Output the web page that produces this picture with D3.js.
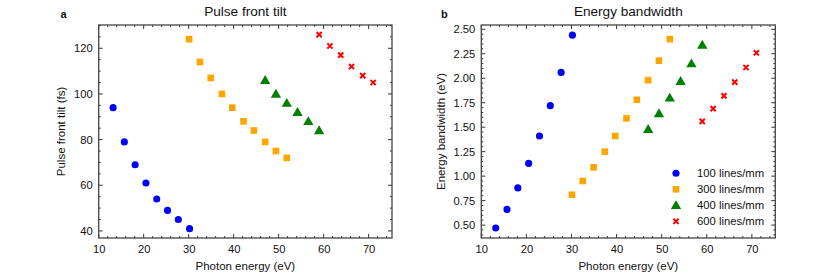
<!DOCTYPE html>
<html>
<head>
<meta charset="utf-8">
<script src="https://cdn.jsdelivr.net/npm/d3@7"></script>
<style>
  body { margin: 0; background: #fff; }
  svg { font-family: 'Liberation Sans', Arial, sans-serif; }
</style>
</head>
<body>
<svg id="canvas" width="831" height="278"></svg>
<script>
// photon energy (eV) per grating
let energy100 = [13.2, 15.7, 18.1, 20.5, 22.9, 25.3, 27.7, 30.2]
let energy300 = [30.1, 32.5, 34.9, 37.4, 39.7, 42.2, 44.5, 47.0, 49.4, 51.8]
let energy400 = [47.0, 49.4, 51.8, 54.2, 56.6, 59.0]
let energy600 = [59.0, 61.4, 63.8, 66.2, 68.7, 71.0]

// pulse front tilt (fs)
let tilt100 = [94, 79, 69, 61, 54, 49, 45, 41]
let tilt300 = [124, 114, 107, 100, 94, 88, 84, 79, 75, 72]
let tilt400 = [106, 100, 96, 92, 88, 84]
let tilt600 = [126, 121, 117, 112, 108, 105]

// energy bandwidth (eV)
let bw100 = [0.47, 0.66, 0.88, 1.13, 1.41, 1.72, 2.06, 2.44]
let bw300 = [0.81, 0.95, 1.09, 1.25, 1.41, 1.59, 1.78, 1.98, 2.18, 2.40]
let bw400 = [1.48, 1.64, 1.80, 1.97, 2.15, 2.34]
let bw600 = [1.56, 1.69, 1.82, 1.96, 2.11, 2.26]

let seriesNames = ['100 lines/mm', '300 lines/mm', '400 lines/mm', '600 lines/mm']
let seriesColors = ['#0000ff', '#ffa500', '#008000', '#ff0000']
let seriesShapes = ['circle', 'square', 'triangle', 'cross']

let xTicks = [10, 20, 30, 40, 50, 60, 70]
let tiltTicks = [40, 60, 80, 100, 120]
let bwTicks = [0.5, 0.75, 1.0, 1.25, 1.5, 1.75, 2.0, 2.25, 2.5]

let canvas = d3.select('#canvas')

let symbolFor = (shape) => {
    if (shape === 'circle') return d3.symbol().type(d3.symbolCircle).size(40)()
    if (shape === 'square') return d3.symbol().type(d3.symbolSquare).size(44)()
    if (shape === 'triangle') return d3.symbol().type(d3.symbolTriangle).size(46)()
    return 'M-2.6,-2.6L2.6,2.6M-2.6,2.6L2.6,-2.6'
}

let drawMarker = (g, shape, color, x, y) => {
    let p = g.append('path')
        .attr('d', symbolFor(shape))
        .attr('transform', 'translate(' + x + ',' + (shape === 'triangle' ? y + 0.8 : y) + ')')
    if (shape === 'cross') {
        p.attr('fill', 'none').attr('stroke', color).attr('stroke-width', 2)
    } else {
        p.attr('fill', color)
    }
}

let drawPanel = (opts) => {
    let x = d3.scaleLinear().domain([10, 75.2]).range([opts.left, opts.right])
    let y = d3.scaleLinear().domain(opts.yDomain).range([opts.bottom, opts.top])
    let g = canvas.append('g')

    // minor + major ticks, all four sides, pointing inward
    let xMinor = d3.range(10, 75.01, 2)
    let yMinor = d3.range(opts.minorStart, opts.yDomain[1], opts.minorStep)

    let tickG = g.append('g').attr('stroke', '#333').attr('stroke-width', 1)
    xMinor.forEach((v) => {
        let major = xTicks.includes(Math.round(v))
        let len = major ? 4 : 2
        tickG.append('line').attr('x1', x(v)).attr('x2', x(v)).attr('y1', opts.bottom).attr('y2', opts.bottom - len)
        tickG.append('line').attr('x1', x(v)).attr('x2', x(v)).attr('y1', opts.top).attr('y2', opts.top + len)
    })
    yMinor.forEach((v) => {
        let major = opts.yTicks.some((t) => Math.abs(t - v) < 1e-6)
        let len = major ? 4 : 2
        tickG.append('line').attr('x1', opts.left).attr('x2', opts.left + len).attr('y1', y(v)).attr('y2', y(v))
        tickG.append('line').attr('x1', opts.right).attr('x2', opts.right - len).attr('y1', y(v)).attr('y2', y(v))
    })

    // tick labels via d3 axes
    let xAxis = g.append('g')
        .attr('transform', 'translate(0,' + opts.bottom + ')')
        .call(d3.axisBottom(x).tickValues(xTicks).tickSize(0).tickPadding(7))
    let yAxis = g.append('g')
        .attr('transform', 'translate(' + opts.left + ',0)')
        .call(d3.axisLeft(y).tickValues(opts.yTicks).tickSize(0).tickPadding(6).tickFormat(opts.fmt))
    ;[xAxis, yAxis].forEach((a) => {
        a.select('.domain').remove()
        a.selectAll('text').attr('font-size', 11.2).attr('fill', '#111').attr('font-family', "'Liberation Sans', Arial, sans-serif")
    })

    // frame
    g.append('rect')
        .attr('x', opts.left).attr('y', opts.top)
        .attr('width', opts.right - opts.left).attr('height', opts.bottom - opts.top)
        .attr('fill', 'none').attr('stroke', '#444').attr('stroke-width', 1.3)

    // data
    opts.series.forEach((s, i) => {
        let pts = s.xs.map((v, j) => [v, s.ys[j]])
        let sg = g.append('g')
        pts.forEach((d) => drawMarker(sg, seriesShapes[i], seriesColors[i], x(d[0]), y(d[1])))
    })

    // titles
    g.append('text').attr('x', (opts.left + opts.right) / 2).attr('y', 16)
        .attr('text-anchor', 'middle').attr('font-size', 13.6).attr('fill', '#111').text(opts.title)
    g.append('text').attr('x', opts.letterX).attr('y', 17.5)
        .attr('font-size', 11).attr('font-weight', 'bold').attr('fill', '#111').text(opts.letter)
    g.append('text').attr('x', (opts.left + opts.right) / 2).attr('y', 270)
        .attr('text-anchor', 'middle').attr('font-size', 11.5).attr('fill', '#111').text('Photon energy (eV)')
    g.append('text')
        .attr('transform', 'translate(' + opts.yLabelX + ',' + ((opts.top + opts.bottom) / 2) + ') rotate(-90)')
        .attr('text-anchor', 'middle').attr('font-size', 11.5).attr('fill', '#111').text(opts.yLabel)
    return { x, y, g }
}

drawPanel({
    left: 98.7, right: 392, top: 25, bottom: 238,
    yDomain: [36.9, 130.2], yTicks: tiltTicks, minorStart: 40, minorStep: 5,
    fmt: d3.format('d'),
    title: 'Pulse front tilt', letter: 'a', letterX: 60.5,
    yLabel: 'Pulse front tilt (fs)', yLabelX: 64.5,
    series: [
        { xs: energy100, ys: tilt100 },
        { xs: energy300, ys: tilt300 },
        { xs: energy400, ys: tilt400 },
        { xs: energy600, ys: tilt600 }
    ]
})

let panelB = drawPanel({
    left: 481.3, right: 775.3, top: 25, bottom: 238,
    yDomain: [0.368, 2.544], yTicks: bwTicks, minorStart: 0.4, minorStep: 0.05,
    fmt: d3.format('.2f'),
    title: 'Energy bandwidth', letter: 'b', letterX: 441,
    yLabel: 'Energy bandwidth (eV)', yLabelX: 445,
    series: [
        { xs: energy100, ys: bw100 },
        { xs: energy300, ys: bw300 },
        { xs: energy400, ys: bw400 },
        { xs: energy600, ys: bw600 }
    ]
})

// legend
let legend = panelB.g.append('g')
seriesNames.forEach((name, i) => {
    let ly = 173.3 + i * 16
    drawMarker(legend, seriesShapes[i], seriesColors[i], 676, ly)
    legend.append('text').attr('x', 697).attr('y', ly + 4)
        .attr('font-size', 11.3).attr('fill', '#111').text(name)
})
</script>
</body>
</html>
